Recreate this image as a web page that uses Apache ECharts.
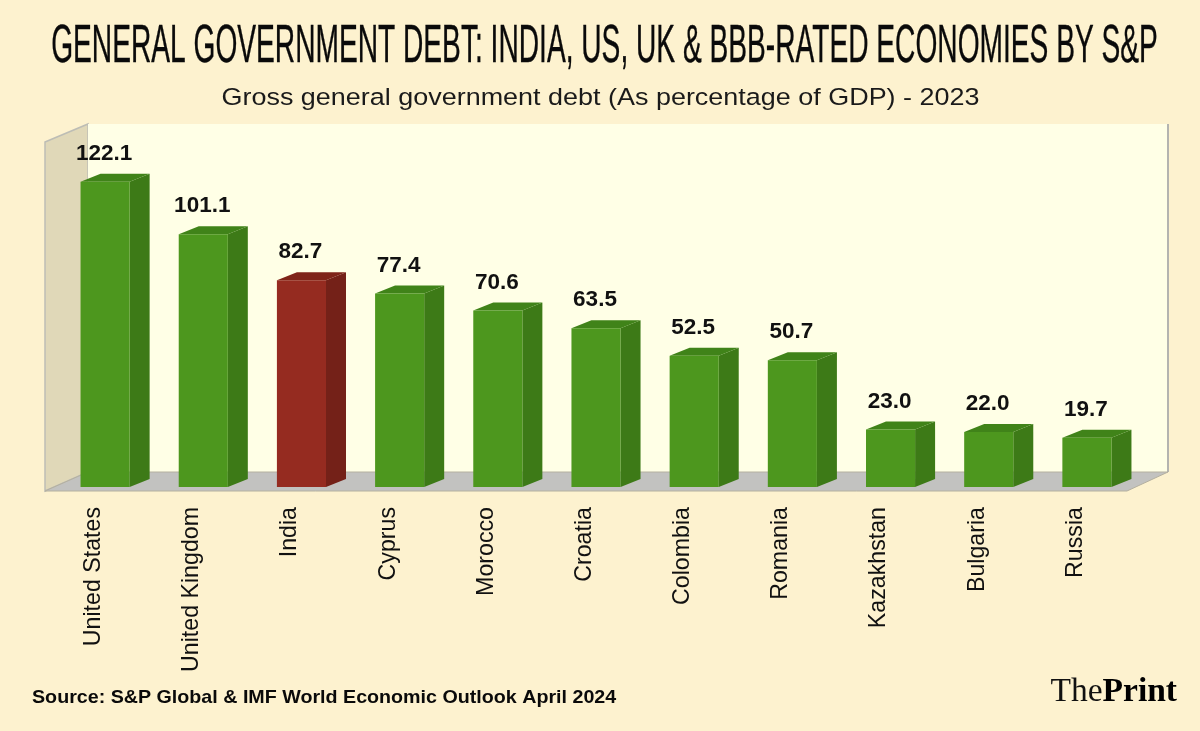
<!DOCTYPE html>
<html>
<head>
<meta charset="utf-8">
<style>html,body{margin:0;padding:0;background:#fdf2cf}#c{width:1200px;height:731px}</style>
<script src="https://cdn.jsdelivr.net/npm/echarts@6/dist/echarts.min.js"></script>
</head>
<body>
<div id="c"></div>
<script>
const categories = ['United States','United Kingdom','India','Cyprus','Morocco','Croatia','Colombia','Romania','Kazakhstan','Bulgaria','Russia'];
const debtValues = [122.1,101.1,82.7,77.4,70.6,63.5,52.5,50.7,23.0,22.0,19.7];
const highlighted = ['India'];
const titleText = 'GENERAL GOVERNMENT DEBT: INDIA, US, UK & BBB-RATED ECONOMIES BY S&P';
const subtitleText = 'Gross general government debt (As percentage of GDP) - 2023';
const sourceText = 'Source: S&P Global & IMF World Economic Outlook April 2024';

const GREEN = {front:'#4d971e', side:'#3d7a17', top:'#408319'};
const RED = {front:'#952b20', side:'#742118', top:'#7f2419'};
const DX = 20, DY = 8;

const chart = echarts.init(document.getElementById('c'));
chart.setOption({
  animation:false,
  backgroundColor:'#fdf2cf',
  grid:{left:56,width:1080,top:137,height:350},
  xAxis:{type:'category',data:categories,
    axisLine:{show:false},axisTick:{show:false},
    axisLabel:{rotate:90,interval:0,margin:20,color:'#111',fontFamily:'Liberation Sans',fontSize:23.2,verticalAlign:'bottom'}},
  yAxis:{type:'value',min:0,max:140,show:false},
  graphic:{elements:[
    {type:'polygon',z:0,shape:{points:[[45,142],[88,124],[88,472],[45,491]]},style:{fill:'#e0d8b8',stroke:'#bdbdb5',lineWidth:1.5}},
    {type:'polygon',z:0,shape:{points:[[88,124],[1168,124],[1168,472],[88,472]]},style:{fill:'#ffffe6'}},
    {type:'polyline',z:0,shape:{points:[[1168,124],[1168,472]]},style:{stroke:'#b4b4b0',lineWidth:2,fill:null}},
    {type:'polygon',z:0,shape:{points:[[45,491],[88,472],[1168,472],[1127,491]]},style:{fill:'#c2c2c0',stroke:'#b4b0a0',lineWidth:1}},
    {type:'text',z:5,x:604.5,y:47,scaleX:0.531,style:{text:titleText,x:0,y:0,align:'center',verticalAlign:'middle',fontFamily:'Liberation Sans',fontSize:53,fill:'#0a0a0a',stroke:'#0a0a0a',lineWidth:0.4}},
    {type:'text',z:5,x:600.5,y:98,scaleX:1.1,style:{text:subtitleText,x:0,y:0,align:'center',verticalAlign:'middle',fontFamily:'Liberation Sans',fontSize:24.5,fill:'#1a1a1a'}},
    {type:'text',z:5,x:32,y:698,scaleX:1.035,style:{text:sourceText,x:0,y:0,align:'left',verticalAlign:'middle',fontFamily:'Liberation Sans',fontWeight:'bold',fontSize:19,fill:'#0a0a0a'}},
    {type:'text',z:5,x:1177,y:692,style:{text:'{a|The}{b|Print}',x:0,y:0,align:'right',verticalAlign:'middle',
      rich:{a:{fontFamily:'Liberation Serif',fontSize:33.5,fill:'#111'},b:{fontFamily:'Liberation Serif',fontWeight:'bold',fontSize:33.5,fill:'#000'}}}}
  ]},
  series:[{
    type:'custom',
    z:3,
    clip:false,
    data:debtValues.map((v,i)=>[i,v]),
    encode:{x:0,y:1},
    renderItem(params,api){
      const i = api.value(0), v = api.value(1);
      const top = api.coord([i,v]), base = api.coord([i,0]);
      const w = api.size([1,0])[0]*0.5;
      const L = top[0]-w/2, R = top[0]+w/2, T = top[1], B = base[1];
      const c = highlighted.includes(categories[i]) ? RED : GREEN;
      return {type:'group',children:[
        {type:'polygon',shape:{points:[[R,T],[R+DX,T-DY],[R+DX,B-DY],[R,B]]},style:{fill:c.side}},
        {type:'polygon',shape:{points:[[L,T],[L+DX,T-DY],[R+DX,T-DY],[R,T]]},style:{fill:c.top}},
        {type:'rect',shape:{x:L,y:T,width:R-L,height:B-T},style:{fill:c.front}},
        {type:'text',style:{text:v.toFixed(1),x:top[0]-1,y:T-28,align:'center',verticalAlign:'middle',fontFamily:'Liberation Sans',fontWeight:'bold',fontSize:22.5,fill:'#111'}}
      ]};
    }
  }]
});
</script>
</body>
</html>
